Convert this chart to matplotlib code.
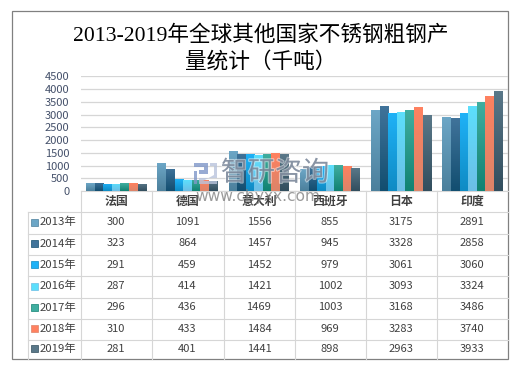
# -*- coding:utf-8 -*-
import numpy as np
import matplotlib
matplotlib.use('Agg')
import matplotlib.pyplot as plt
import matplotlib.patheffects as pe
from matplotlib.colors import LinearSegmentedColormap
from matplotlib.patches import Rectangle, Polygon

plt.rcParams['font.family'] = ['Noto Sans CJK SC', 'DejaVu Sans']

countries = ['法国', '德国', '意大利', '西班牙', '日本', '印度']
years = ['2013年', '2014年', '2015年', '2016年', '2017年', '2018年', '2019年']
v2013 = [300, 1091, 1556, 855, 3175, 2891]
v2014 = [323, 864, 1457, 945, 3328, 2858]
v2015 = [291, 459, 1452, 979, 3061, 3060]
v2016 = [287, 414, 1421, 1002, 3093, 3324]
v2017 = [296, 436, 1469, 1003, 3168, 3486]
v2018 = [310, 433, 1484, 969, 3283, 3740]
v2019 = [281, 401, 1441, 898, 2963, 3933]
series = [v2013, v2014, v2015, v2016, v2017, v2018, v2019]
yticks = [0, 500, 1000, 1500, 2000, 2500, 3000, 3500, 4000, 4500]

tops = ['#6CA6C6', '#40739A', '#1FB2F7', '#5CDFFC', '#40AEA0', '#FF8160', '#5A7889']
bottoms = ['#4C809C', '#124E70', '#0F8BC4', '#6CBEE6', '#118272', '#DC8469', '#324E5E']

W, H = 524, 367
fig = plt.figure(figsize=(W / 100, H / 100), dpi=100, facecolor='white')

# pixel canvas for frame, table and watermark
bg = fig.add_axes([0, 0, 1, 1])
bg.set_xlim(0, W)
bg.set_ylim(H, 0)
bg.axis('off')

bg.add_patch(Rectangle((11.5, 10.5), 496.5, 348, fc='white', ec='#808080', lw=0.9))

title_font = ['Liberation Serif', 'Noto Sans CJK SC']
bg.text(260.5, 35, '2013-2019年全球其他国家不锈钢粗钢产', ha='center', va='center', fontsize=15.6,
        family=title_font, color='#000000', fontweight='medium')
bg.text(260.5, 62, '量统计（千吨）', ha='center', va='center', fontsize=15.6,
        family=title_font, color='#000000', fontweight='medium')

col_x = [80.5, 151.5, 223.5, 294.5, 365.5, 436.5, 508]
row_y = [191.3, 211.5, 233.5, 254.5, 275.5, 297.5, 318.5, 339.5, 358.5]
grey = '#D6D6D6'
for x in col_x[:-1]:
    bg.plot([x, x], [row_y[0], row_y[-1]], color=grey, lw=0.8)
bg.plot([27.5, 27.5], [row_y[1], row_y[-1]], color=grey, lw=0.8)
bg.plot([80.5, 508], [row_y[0], row_y[0]], color=grey, lw=0.8)
for y in row_y[1:-1]:
    bg.plot([27.5, 508], [y, y], color=grey, lw=0.8)

for i, c in enumerate(countries):
    bg.text((col_x[i] + col_x[i + 1]) / 2, 201, c, ha='center', va='center',
            fontsize=8.6, color='#404040', fontweight='bold')

for j, s in enumerate(series):
    yc = (row_y[j + 1] + row_y[j + 2]) / 2 - 0.5
    bg.add_patch(Rectangle((31, yc - 3.5), 7, 7, fc=tops[j], ec=bottoms[j], lw=0.5))
    bg.text(40, yc, years[j], ha='left', va='center', fontsize=8.2, color='#404040')
    for i, v in enumerate(s):
        bg.text((col_x[i] + col_x[i + 1]) / 2, yc, str(v), ha='center', va='center',
                fontsize=8, color='#404040')

# bars
ax = fig.add_axes([80.5 / W, 1 - 191 / H, (508 - 80.5) / W, (191 - 76.3) / H])
ax.patch.set_alpha(0)
bw = 0.12
x = np.arange(len(countries)) + 0.5
for j, s in enumerate(series):
    bars = ax.bar(x + (j - 3) * bw, s, bw, color=tops[j], zorder=3)
    cmap = LinearSegmentedColormap.from_list('g', [tops[j], bottoms[j]])
    for b in bars:
        im = ax.imshow(np.linspace(0, 1, 64).reshape(-1, 1), cmap=cmap, aspect='auto', zorder=3.5,
                       extent=[b.get_x(), b.get_x() + bw, 0, b.get_height()])
        im.set_clip_path(b)
ax.set_xlim(0, 6)
ax.set_ylim(0, 4500)
ax.set_xticks([])
ax.set_yticks(yticks)
ax.tick_params(axis='y', length=0, pad=8, labelsize=8, labelcolor='#44506A')
for t in ax.get_yticklabels():
    t.set_fontweight('medium')
ax.grid(axis='y', color=grey, lw=0.9, zorder=0)
ax.set_axisbelow(True)
for sp in ax.spines.values():
    sp.set_visible(False)

# watermark on top of everything
wm = fig.add_axes([0, 0, 1, 1])
wm.set_xlim(0, W)
wm.set_ylim(H, 0)
wm.axis('off')
wm.patch.set_alpha(0)
halo = [pe.withStroke(linewidth=1.5, foreground='white', alpha=0.5)]
wm.text(275, 173, '智研咨询', ha='center', va='center', fontsize=19.5, color='#6E7C90', alpha=0.75,
        path_effects=halo)
wm.text(257.5, 197, 'www.chyxx.com', ha='center', va='center', fontsize=11.2, color='#7A7A7A', alpha=0.75,
        family='DejaVu Sans')
wm.add_patch(Polygon([(194, 163), (208, 163), (208, 174), (199, 174), (199, 170), (204, 170), (204, 167), (194, 167)],
                     fc='#7F96C8', alpha=0.8, lw=0))
wm.add_patch(Polygon([(194, 171), (197, 171), (197, 184), (194, 184)], fc='#7F96C8', alpha=0.8, lw=0))
wm.add_patch(Polygon([(210, 163), (217, 163), (217, 178), (199, 178), (199, 184), (217, 184), (217, 181), (203, 181),
                      (214, 175), (214, 166), (210, 166)], fc='#B9C4DC', alpha=0.8, lw=0))

fig.savefig('out.png', dpi=100)
